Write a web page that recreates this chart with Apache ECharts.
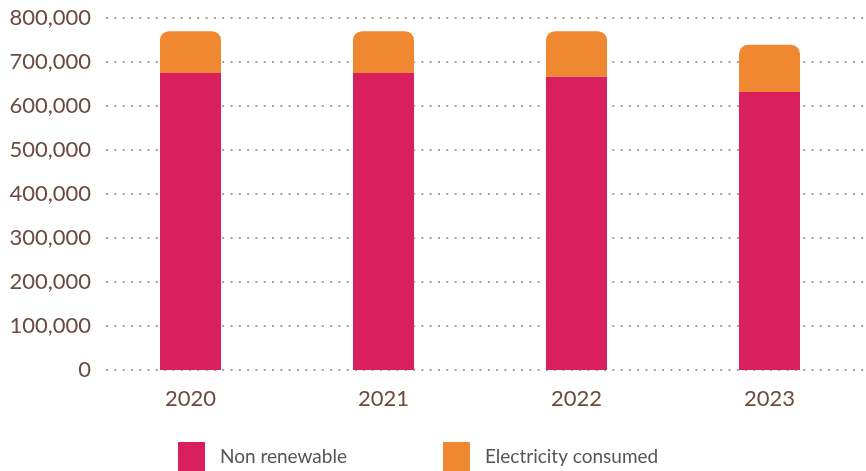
<!DOCTYPE html>
<html><head><meta charset="utf-8">
<script src="https://cdn.jsdelivr.net/npm/echarts@6/dist/echarts.min.js"></script>
<style>html,body{margin:0;padding:0;background:#fff}#c{width:866px;height:471px}</style>
</head><body><div id="c"></div>
<script>
const categories = ['2020', '2021', '2022', '2023'];
const nonRenewable = [675000, 675000, 667000, 632000];
const electricity = [95000, 95000, 103000, 107000];
const yTicks = [0, 100000, 200000, 300000, 400000, 500000, 600000, 700000, 800000];

const chart = echarts.init(document.getElementById('c'));
const brown = '#6b4a3f';
const yMin = yTicks[0], yMax = yTicks[yTicks.length - 1];
chart.setOption({
  animation: false,
  textStyle: { fontFamily: 'Lato' },
  grid: [
    { left: 94, top: 18, width: 774, height: 352 },
    { left: 106, top: 18, width: 762, height: 352 }
  ],
  legend: {
    top: 437, left: 173, itemWidth: 27, itemHeight: 30, itemGap: 96,
    icon: 'rect',
    textStyle: { color: '#555', fontSize: 19, fontFamily: 'Lato', padding: [0, 0, 0, 10] },
    data: ['Non renewable', 'Electricity consumed']
  },
  xAxis: [
    { type: 'category', data: categories, gridIndex: 0,
      axisLine: { show: false }, axisTick: { show: false },
      axisLabel: { color: brown, fontSize: 22, margin: 18 } },
    { type: 'value', gridIndex: 1, show: false }
  ],
  yAxis: [
    { type: 'value', gridIndex: 0, min: yMin, max: yMax, show: false, splitLine: { show: false } },
    { type: 'value', gridIndex: 1, min: yMin, max: yMax, interval: 100000,
      axisLine: { show: false }, axisTick: { show: false },
      axisLabel: { color: brown, fontSize: 22, margin: 15,
        formatter: v => v.toLocaleString('en-US') },
      splitLine: { lineStyle: { color: '#a0a0a0', width: 2, type: [2, 6.3] } } }
  ],
  series: [
    { name: 'Non renewable', type: 'bar', stack: 's', data: nonRenewable, barWidth: 61,
      xAxisIndex: 0, yAxisIndex: 0, z: 3,
      itemStyle: { color: '#d91f5e' } },
    { name: 'Electricity consumed', type: 'bar', stack: 's', data: electricity, barWidth: 61,
      xAxisIndex: 0, yAxisIndex: 0, z: 3,
      itemStyle: { color: '#f08832', borderRadius: [9, 9, 0, 0] } }
  ]
});
</script></body></html>
